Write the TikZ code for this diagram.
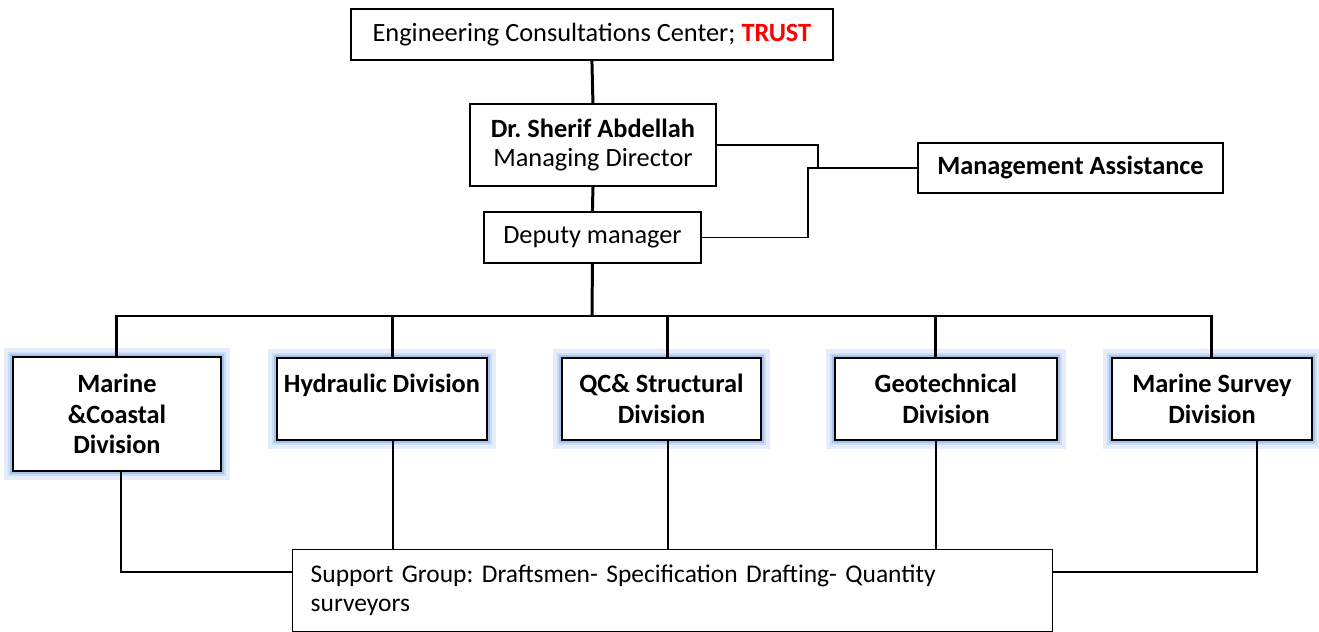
\documentclass[tikz,border=0pt]{standalone}
\usepackage{fontspec}
\setmainfont{Carlito}
\definecolor{glowblue}{RGB}{150,185,235}
\begin{document}
\frenchspacing
\begin{tikzpicture}[x=0.02cm, y=-0.02cm, font=\fontsize{15}{18}\selectfont]
	\tikzstyle{box}=[draw, line width=1.1pt, fill=white, inner sep=0pt, align=center, anchor=north west]
	\tikzstyle{divbox}=[box, font=\fontsize{15}{17.5}\selectfont\bfseries, minimum height=1.64cm,
		preaction={draw=glowblue!25, line width=10pt}, preaction={draw=glowblue!50, line width=6pt}, preaction={draw=glowblue!85, line width=3pt}]
	\tikzstyle{bigline}=[line width=1.7pt]
	\tikzstyle{thinline}=[line width=0.9pt]
	\useasboundingbox (0,0) rectangle (1319,632);

	% top of the chart
	\node (ecc) [box, minimum width=9.64cm, minimum height=1.02cm] at (350,8) {Engineering Consultations Center; \textcolor{red}{\textbf{TRUST}}};
	\node (md) [box, minimum width=4.92cm, minimum height=1.64cm, font=\fontsize{15}{16.5}\selectfont] at (469,103) {\textbf{Dr. Sherif Abdellah}\\Managing Director};
	\node (dep) [box, minimum width=4.34cm, minimum height=1.02cm] at (483,211) {Deputy manager};
	\node (ma) [box, minimum width=6.1cm, minimum height=1cm, font=\fontsize{15}{18}\selectfont\bfseries] at (917,142) {Management Assistance};

	% divisions
	\node (mc) [divbox, minimum width=4.16cm, minimum height=2.28cm] at (12,356) {Marine\\\&Coastal\\Division};
	\node (hy) [divbox, minimum width=4.2cm] at (276,357) {Hydraulic Division\\\mbox{}};
	\node (qc) [divbox, minimum width=3.98cm] at (561,357) {QC\& Structural\\Division};
	\node (geo) [divbox, minimum width=4.44cm] at (834,357) {Geotechnical\\Division};
	\node (ms) [divbox, minimum width=4cm] at (1111,357) {Marine Survey\\Division};

	% support group
	\node (sup) [box, line width=0.8pt, minimum width=15.2cm, minimum height=1.64cm, text width=14.48cm, align=left, font=\fontsize{14.5}{16.5}\selectfont] at (292,549) {Support Group: Draftsmen- Specification Drafting- Quantity\\surveyors};

	% main line
	\coordinate (bus) at (592,316);
	\draw[bigline] (ecc.south) -- (md.north);
	\draw[bigline] (md.south) -- (dep.north);
	\draw[bigline] (dep.south) -- (bus);
	\draw[bigline] (mc.north) |- (bus) -| (ms.north);
	\draw[bigline] ([xshift=0.22cm]hy.north) -- ([xshift=0.22cm]hy.north |- bus);
	\draw[bigline] ([xshift=0.13cm]qc.north) -- ([xshift=0.13cm]qc.north |- bus);
	\draw[bigline] ([xshift=-0.2cm]geo.north) -- ([xshift=-0.2cm]geo.north |- bus);

	% to the assistance
	\draw[thinline] (md.east) -| ([xshift=-1.98cm]ma.west);
	\draw[thinline] (dep.east) -| ([xshift=-2.18cm]ma.west) -- (ma.west);

	% down to the support group
	\draw[thinline] ([xshift=0.08cm]mc.south) |- ([yshift=-0.46cm]sup.north west);
	\draw[thinline] ([xshift=0.9cm]ms.south) |- ([yshift=-0.46cm]sup.north east);
	\draw[thinline] ([xshift=0.22cm]hy.south) -- ([xshift=0.22cm]hy.south |- sup.north);
	\draw[thinline] ([xshift=0.13cm]qc.south) -- ([xshift=0.13cm]qc.south |- sup.north);
	\draw[thinline] ([xshift=-0.2cm]geo.south) -- ([xshift=-0.2cm]geo.south |- sup.north);
\end{tikzpicture}
\end{document}
